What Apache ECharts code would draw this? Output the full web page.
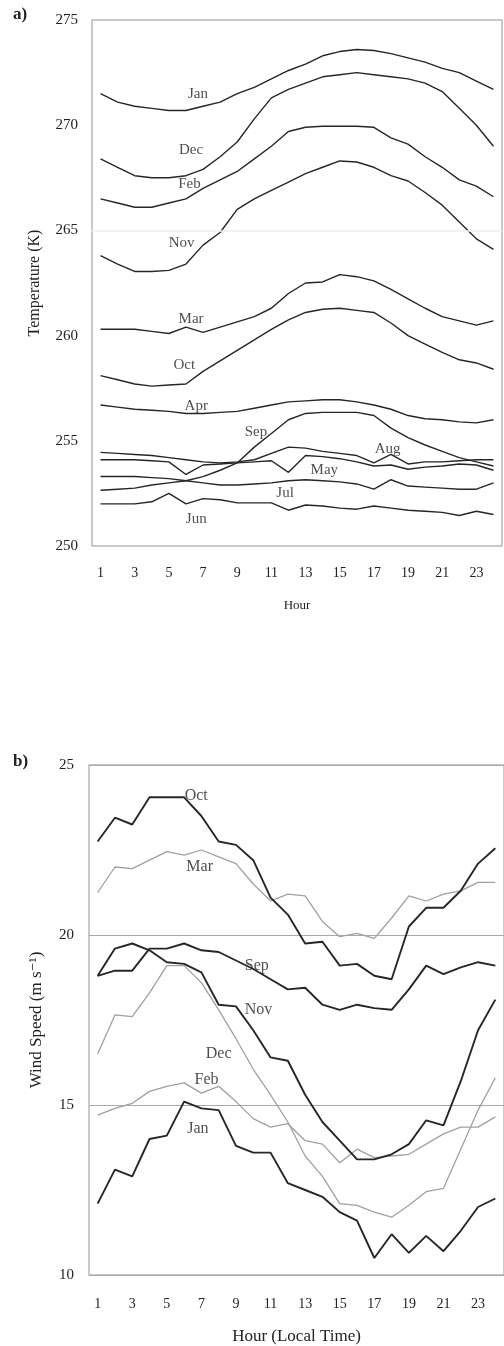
<!DOCTYPE html>
<html>
<head>
<meta charset="utf-8">
<script src="https://cdn.jsdelivr.net/npm/echarts@6/dist/echarts.min.js"></script>
<style>
html,body{margin:0;padding:0;background:#fff;}
#chart{width:504px;height:1346px;}
</style>
</head>
<body>
<div id="chart"></div>
<script>
// ---------- data ----------
const hours = ['1','2','3','4','5','6','7','8','9','10','11','12','13','14','15','16','17','18','19','20','21','22','23','24'];

// Panel a: temperature (K)
const tempJan = [271.5,271.1,270.9,270.8,270.7,270.7,270.9,271.1,271.5,271.8,272.2,272.6,272.9,273.3,273.5,273.6,273.55,273.4,273.2,273.0,272.7,272.5,272.1,271.7];
const tempDec = [268.4,268.0,267.6,267.5,267.5,267.6,267.9,268.5,269.2,270.3,271.3,271.7,272.0,272.3,272.4,272.5,272.4,272.3,272.2,272.0,271.6,270.8,270.0,269.0];
const tempFeb = [266.5,266.3,266.1,266.1,266.3,266.5,267.0,267.4,267.8,268.4,269.0,269.7,269.9,269.95,269.95,269.95,269.9,269.4,269.1,268.5,268.0,267.4,267.1,266.6];
const tempNov = [263.8,263.4,263.05,263.05,263.1,263.4,264.3,264.9,266.0,266.5,266.9,267.3,267.7,268.0,268.3,268.25,268.0,267.6,267.35,266.8,266.2,265.4,264.6,264.1];
const tempMar = [260.3,260.3,260.3,260.2,260.1,260.4,260.15,260.4,260.65,260.9,261.3,262.0,262.5,262.55,262.9,262.8,262.6,262.2,261.75,261.3,260.9,260.7,260.5,260.7];
const tempOct = [258.1,257.9,257.7,257.6,257.65,257.7,258.3,258.8,259.3,259.8,260.3,260.75,261.1,261.25,261.3,261.2,261.1,260.6,260.0,259.6,259.2,258.85,258.7,258.4];
const tempApr = [256.7,256.6,256.5,256.45,256.4,256.3,256.3,256.35,256.4,256.55,256.7,256.85,256.9,256.95,256.95,256.85,256.7,256.5,256.2,256.05,256.0,255.9,255.85,256.0];
const tempSep = [252.65,252.7,252.75,252.9,253.0,253.1,253.3,253.6,253.95,254.7,255.35,256.0,256.3,256.35,256.35,256.35,256.2,255.6,255.15,254.8,254.5,254.2,254.0,253.8];
const tempAug = [254.45,254.4,254.35,254.3,254.2,254.1,254.0,253.95,254.0,254.1,254.4,254.7,254.65,254.5,254.4,254.3,253.95,254.35,253.9,254.0,254.0,254.05,254.1,254.1];
const tempMay = [254.1,254.1,254.1,254.05,254.0,253.4,253.85,253.9,253.95,254.0,254.05,253.5,254.3,254.25,254.15,254.0,253.8,253.85,253.65,253.75,253.8,253.9,253.85,253.6];
const tempJul = [253.3,253.3,253.3,253.25,253.2,253.1,253.0,252.9,252.9,252.95,253.0,253.1,253.15,253.1,253.05,252.95,252.7,253.15,252.85,252.8,252.75,252.7,252.7,253.0];
const tempJun = [252.0,252.0,252.0,252.1,252.5,252.0,252.25,252.2,252.05,252.05,252.05,251.7,251.95,251.9,251.8,251.75,251.9,251.8,251.7,251.65,251.6,251.45,251.65,251.5];

const tempNames = ['Jan','Dec','Feb','Nov','Mar','Oct','Apr','Sep','Aug','May','Jul','Jun'];
const tempSeries = [tempJan,tempDec,tempFeb,tempNov,tempMar,tempOct,tempApr,tempSep,tempAug,tempMay,tempJul,tempJun];
const tempTicks = [250,255,260,265,270,275];

// month label anchors (hour, value) for panel a
const tempLabelHour  = [6.7,6.3,6.2,5.75,6.3,5.9,6.6,10.1,17.8,14.1,11.8,6.6];
const tempLabelValue = [271.5,268.8,267.2,264.4,260.8,258.6,256.65,255.4,254.6,253.6,252.5,251.3];

// Panel b: wind speed (m s-1)
const windOct = [22.75,23.45,23.25,24.05,24.05,24.05,23.5,22.75,22.65,22.2,21.1,20.6,19.75,19.8,19.1,19.15,18.8,18.7,20.25,20.8,20.8,21.3,22.1,22.55];
const windMar = [21.25,22.0,21.95,22.2,22.45,22.35,22.5,22.3,22.1,21.5,21.0,21.2,21.15,20.4,19.95,20.05,19.9,20.5,21.15,21.0,21.2,21.3,21.55,21.55];
const windSep = [18.8,18.95,18.95,19.6,19.6,19.75,19.55,19.5,19.25,19.0,18.7,18.4,18.45,17.95,17.8,17.95,17.85,17.8,18.4,19.1,18.85,19.05,19.2,19.1];
const windNov = [18.8,19.6,19.75,19.55,19.2,19.15,18.9,17.95,17.9,17.2,16.4,16.3,15.3,14.5,13.95,13.4,13.4,13.55,13.85,14.55,14.4,15.7,17.2,18.1];
const windDec = [16.5,17.65,17.6,18.3,19.1,19.1,18.6,17.8,16.95,16.05,15.3,14.5,13.5,12.9,12.1,12.05,11.85,11.7,12.05,12.45,12.55,13.7,14.85,15.8];
const windFeb = [14.7,14.9,15.05,15.4,15.55,15.65,15.35,15.55,15.1,14.6,14.35,14.45,13.95,13.85,13.3,13.7,13.45,13.5,13.55,13.85,14.15,14.35,14.35,14.65];
const windJan = [12.1,13.1,12.9,14.0,14.1,15.1,14.9,14.85,13.8,13.6,13.6,12.7,12.5,12.3,11.85,11.6,10.5,11.2,10.65,11.15,10.7,11.3,12.0,12.25];

const windNames = ['Oct','Mar','Sep','Nov','Dec','Feb','Jan'];
const windSeries = [windOct,windMar,windSep,windNov,windDec,windFeb,windJan];
const windShade = ['dark','light','dark','dark','light','light','dark'];
const windTicks = [10,15,20,25];

const windLabelHour  = [6.7,6.9,10.2,10.3,8.0,7.3,6.8];
const windLabelValue = [24.1,22.0,19.1,17.8,16.5,15.75,14.3];

// ---------- chart ----------
const SERIF = '"Liberation Serif","DejaVu Serif",serif';
const TXT = '#222';
const chart = echarts.init(document.getElementById('chart'), null, {renderer:'canvas'});

const series = [];
tempSeries.forEach((d, i) => {
  const s = {
    name: 'T ' + tempNames[i], type: 'line', xAxisIndex: 0, yAxisIndex: 0,
    data: d, showSymbol: false, symbol: 'none', animation: false, z: 3,
    lineStyle: {color: '#262626', width: 1.4}
  };
  if (i === 0) {
    s.markLine = {silent: true, symbol: 'none', label: {show: false},
      lineStyle: {color: '#ececec', width: 1.5, type: 'solid'},
      data: [{yAxis: 265}]};
  }
  series.push(s);
});
series.push({
  type: 'scatter', xAxisIndex: 2, yAxisIndex: 0, animation: false, z: 5,
  symbolSize: 1, itemStyle: {color: 'rgba(0,0,0,0)'},
  data: tempNames.map((n, i) => [tempLabelHour[i], tempLabelValue[i], n]),
  label: {show: true, position: 'inside', formatter: p => p.value[2],
    fontFamily: SERIF, fontSize: 15, color: TXT}
});
windSeries.forEach((d, i) => {
  const dark = windShade[i] === 'dark';
  series.push({
    name: 'W ' + windNames[i], type: 'line', xAxisIndex: 1, yAxisIndex: 1,
    data: d, showSymbol: false, symbol: 'none', animation: false, z: dark ? 4 : 3,
    lineStyle: {color: dark ? '#262626' : '#a0a0a0', width: dark ? 1.9 : 1.3}
  });
});
series.push({
  type: 'scatter', xAxisIndex: 3, yAxisIndex: 1, animation: false, z: 5,
  symbolSize: 1, itemStyle: {color: 'rgba(0,0,0,0)'},
  data: windNames.map((n, i) => [windLabelHour[i], windLabelValue[i], n]),
  label: {show: true, position: 'inside', formatter: p => p.value[2],
    fontFamily: SERIF, fontSize: 16, color: TXT}
});

const catAxis = (gi, name, gap, margin, fs, nfs) => ({
  gridIndex: gi, type: 'category', data: hours, boundaryGap: true,
  axisLine: {show: false}, axisTick: {show: false}, splitLine: {show: false},
  axisLabel: {interval: 1, margin: margin, fontFamily: SERIF, fontSize: fs, color: TXT},
  name: name, nameLocation: 'middle', nameGap: gap,
  nameTextStyle: {fontFamily: SERIF, fontSize: nfs, color: TXT}
});

chart.setOption({
  backgroundColor: '#fff',
  animation: false,
  textStyle: {fontFamily: SERIF},
  grid: [
    {left: 92, top: 20, width: 410, height: 526, show: true, borderColor: '#b8b8b8', borderWidth: 1.5, backgroundColor: 'transparent'},
    {left: 89, top: 765, width: 416, height: 510, show: true, borderColor: '#b8b8b8', borderWidth: 1.5, backgroundColor: 'transparent'}
  ],
  xAxis: [
    catAxis(0, 'Hour', 53, 20, 14, 13),
    catAxis(1, 'Hour (Local Time)', 53, 22, 14, 17),
    {gridIndex: 0, type: 'value', min: 0.5, max: 24.5, show: false},
    {gridIndex: 1, type: 'value', min: 0.5, max: 24.5, show: false}
  ],
  yAxis: [
    {gridIndex: 0, type: 'value', min: tempTicks[0], max: tempTicks[tempTicks.length-1], interval: 5,
     axisLine: {show: false}, axisTick: {show: false}, splitLine: {show: false},
     axisLabel: {margin: 14, fontFamily: SERIF, fontSize: 15, color: TXT},
     name: 'Temperature (K)', nameLocation: 'middle', nameGap: 49,
     nameTextStyle: {fontFamily: SERIF, fontSize: 16, color: TXT}},
    {gridIndex: 1, type: 'value', min: windTicks[0], max: windTicks[windTicks.length-1], interval: 5,
     axisLine: {show: false}, axisTick: {show: false},
     splitLine: {show: true, lineStyle: {color: '#a8a8a8', width: 1.2}},
     axisLabel: {margin: 15, fontFamily: SERIF, fontSize: 15, color: TXT},
     name: 'Wind Speed (m s\u207B\u00B9)', nameLocation: 'middle', nameGap: 44,
     nameTextStyle: {fontFamily: SERIF, fontSize: 17, color: TXT}}
  ],
  graphic: [
    {type: 'text', left: 13, top: 6, style: {text: 'a)', font: 'bold 17px ' + SERIF, fill: TXT}},
    {type: 'text', left: 13, top: 753, style: {text: 'b)', font: 'bold 17px ' + SERIF, fill: TXT}}
  ],
  series: series
});
</script>
</body>
</html>
